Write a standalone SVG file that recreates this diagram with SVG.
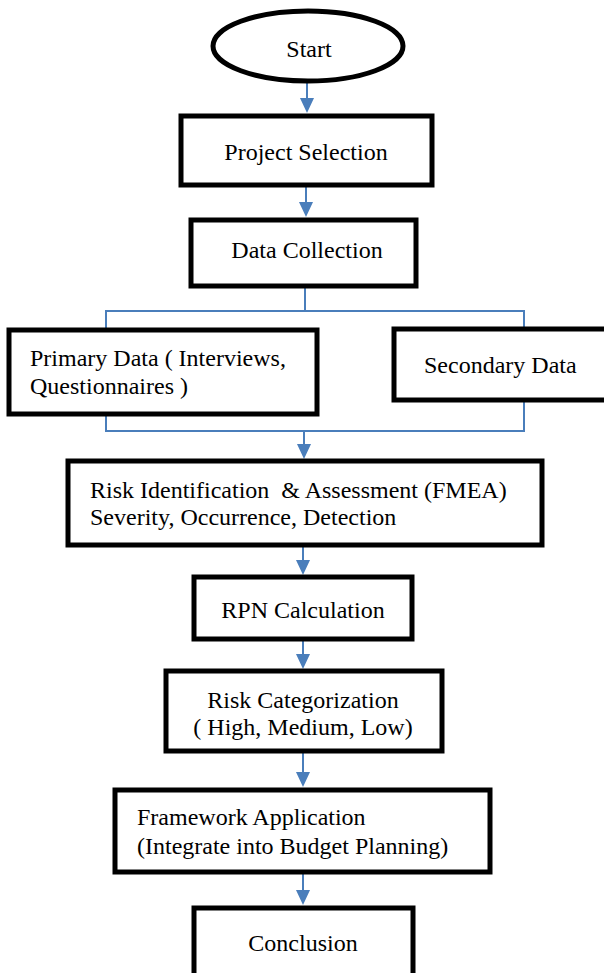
<svg xmlns="http://www.w3.org/2000/svg" width="604" height="973" viewBox="0 0 604 973">
<style>
.box{fill:#fff;stroke:#000;stroke-width:5}
.t{font-family:"Liberation Serif",serif;font-size:24px;fill:#000;white-space:pre}
.c{fill:none;stroke:#4a7ebb;stroke-width:2}
.a{fill:#4a7ebb}
</style>
<rect width="604" height="973" fill="#fff"/>
<g id="connectors">
<line class="c" x1="307" y1="82" x2="307" y2="100"/>
<path class="a" d="M300,98 L314,98 L307,113 Z"/>
<line class="c" x1="306" y1="186" x2="306" y2="204"/>
<path class="a" d="M299,202 L313,202 L306,217 Z"/>
<path class="c" d="M305,286 V311 M106,328 V311 H524 V328"/>
<path class="c" d="M106,415 V431 H524 V401 M304,431 V446"/>
<path class="a" d="M297,444 L311,444 L304,459 Z"/>
<line class="c" x1="303" y1="546" x2="303" y2="562"/>
<path class="a" d="M296,560 L310,560 L303,575 Z"/>
<line class="c" x1="303" y1="640" x2="303" y2="656"/>
<path class="a" d="M296,654 L310,654 L303,669 Z"/>
<line class="c" x1="303" y1="752" x2="303" y2="774"/>
<path class="a" d="M296,772 L310,772 L303,787 Z"/>
<line class="c" x1="303" y1="873" x2="303" y2="892"/>
<path class="a" d="M296,890 L310,890 L303,905 Z"/>
</g>
<g id="start">
<ellipse class="box" cx="308" cy="46" rx="95" ry="35"/>
<text class="t" x="309" y="57" text-anchor="middle">Start</text>
</g>
<g id="project-selection">
<rect class="box" x="181" y="116" width="251" height="69"/>
<text class="t" x="306" y="160" text-anchor="middle">Project Selection</text>
</g>
<g id="data-collection">
<rect class="box" x="191" y="220" width="225" height="66"/>
<text class="t" x="307" y="258" text-anchor="middle">Data Collection</text>
</g>
<g id="primary-data">
<rect class="box" x="9" y="330" width="308" height="84"/>
<text class="t" x="30" y="366">Primary Data ( Interviews,</text>
<text class="t" x="30" y="394">Questionnaires )</text>
</g>
<g id="secondary-data">
<rect class="box" x="394" y="329" width="214" height="71"/>
<text class="t" x="424" y="373">Secondary Data</text>
</g>
<g id="risk-identification">
<rect class="box" x="68" y="461" width="474" height="84"/>
<text class="t" x="90" y="498">Risk Identification  &amp; Assessment (FMEA)</text>
<text class="t" x="90" y="525">Severity, Occurrence, Detection</text>
</g>
<g id="rpn-calculation">
<rect class="box" x="194" y="577" width="218" height="62"/>
<text class="t" x="303" y="618" text-anchor="middle">RPN Calculation</text>
</g>
<g id="risk-categorization">
<rect class="box" x="166" y="671" width="276" height="80"/>
<text class="t" x="303" y="708" text-anchor="middle">Risk Categorization</text>
<text class="t" x="303" y="735" text-anchor="middle">( High, Medium, Low)</text>
</g>
<g id="framework-application">
<rect class="box" x="115" y="790" width="375" height="82"/>
<text class="t" x="137" y="825">Framework Application</text>
<text class="t" x="137" y="854">(Integrate into Budget Planning)</text>
</g>
<g id="conclusion">
<rect class="box" x="194" y="908" width="219" height="70"/>
<text class="t" x="303" y="951" text-anchor="middle">Conclusion</text>
</g>
</svg>
